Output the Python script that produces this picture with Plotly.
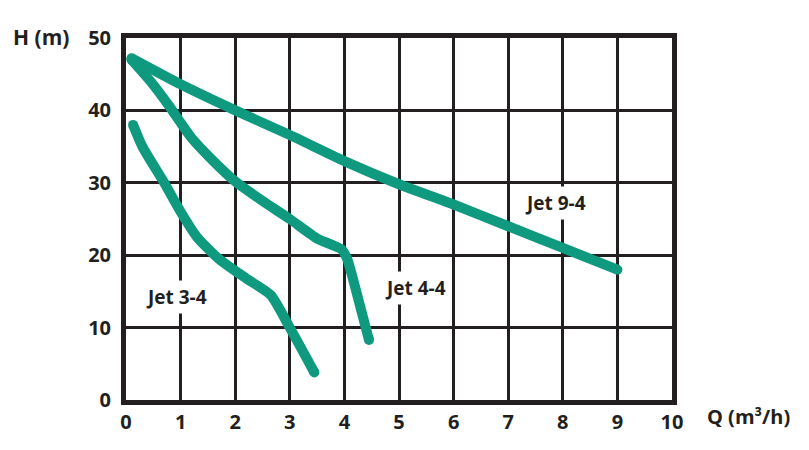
import plotly.graph_objects as go

# Jet 9-4
q_94 = [0.1, 1.0, 2.0, 3.0, 4.0, 5.0, 6.0, 7.0, 8.0, 9.0]
h_94 = [47.2, 43.6, 40.0, 36.6, 33.0, 29.8, 27.0, 24.0, 21.0, 18.0]
# Jet 4-4
q_44 = [0.1, 0.45, 0.8, 1.0, 1.2, 1.6, 2.0, 2.5, 3.0, 3.5, 3.75, 3.95, 4.05, 4.2, 4.45]
h_44 = [47.0, 44.0, 40.5, 38.3, 36.2, 33.0, 30.2, 27.5, 25.0, 22.3, 21.5, 20.8, 19.5, 15.5, 8.3]
# Jet 3-4
q_34 = [0.13, 0.3, 0.7, 1.0, 1.3, 1.7, 2.2, 2.65, 3.0, 3.45]
h_34 = [38.0, 35.0, 30.0, 26.0, 22.5, 19.5, 16.8, 14.5, 10.0, 3.8]

labels = ["Jet 9-4", "Jet 4-4", "Jet 3-4"]
label_q = [7.86, 5.31, 0.93]
label_h = [27.2, 15.5, 14.2]

x_ticks = list(range(0, 11))
y_ticks = [0, 10, 20, 30, 40, 50]

green = "#0f9a80"
dark = "#231f20"
font_family = "Open Sans"

fig = go.Figure()
for q, h in [(q_94, h_94), (q_44, h_44), (q_34, h_34)]:
    fig.add_trace(go.Scatter(x=q, y=h, mode="lines", line=dict(color=green, width=10, shape="spline", smoothing=0.6),
                             hoverinfo="skip", showlegend=False))
    fig.add_trace(go.Scatter(x=[q[0], q[-1]], y=[h[0], h[-1]], mode="markers",
                             marker=dict(color=green, size=10, line=dict(width=0)),
                             hoverinfo="skip", showlegend=False))

for t, x, y in zip(labels, label_q, label_h):
    fig.add_annotation(x=x, y=y, text="<b>" + t + "</b>", showarrow=False,
                       font=dict(family=font_family, size=19, color=dark),
                       bgcolor="white", borderpad=3)

fig.add_annotation(xref="paper", yref="paper", x=-0.156, y=1.003, text="<b>H (m)</b>", showarrow=False,
                   xanchor="center", yanchor="middle", font=dict(family=font_family, size=21, color=dark))
fig.add_annotation(xref="paper", yref="paper", x=1.06, y=-0.045, text="<b>Q (m³/h)</b>", showarrow=False,
                   xanchor="left", yanchor="middle", font=dict(family=font_family, size=20, color=dark))

fig.update_xaxes(range=[0, 10], tickvals=x_ticks, ticktext=["<b>%d</b>" % v for v in x_ticks],
                 showgrid=True, gridcolor=dark, gridwidth=3, zeroline=False,
                 showline=True, linecolor=dark, linewidth=5, mirror=True,
                 ticks="", tickfont=dict(family=font_family, size=20, color=dark))
fig.update_yaxes(range=[0, 50], tickvals=y_ticks, ticktext=["<b>%d</b>" % v for v in y_ticks],
                 showgrid=True, gridcolor=dark, gridwidth=3, zeroline=False,
                 showline=True, linecolor=dark, linewidth=5, mirror=True,
                 ticks="", ticklabelstandoff=6, tickfont=dict(family=font_family, size=20, color=dark))

fig.update_layout(width=809, height=450, margin=dict(l=126, r=137, t=38, b=50),
                  plot_bgcolor="white", paper_bgcolor="white")

fig.write_html("out.html")
